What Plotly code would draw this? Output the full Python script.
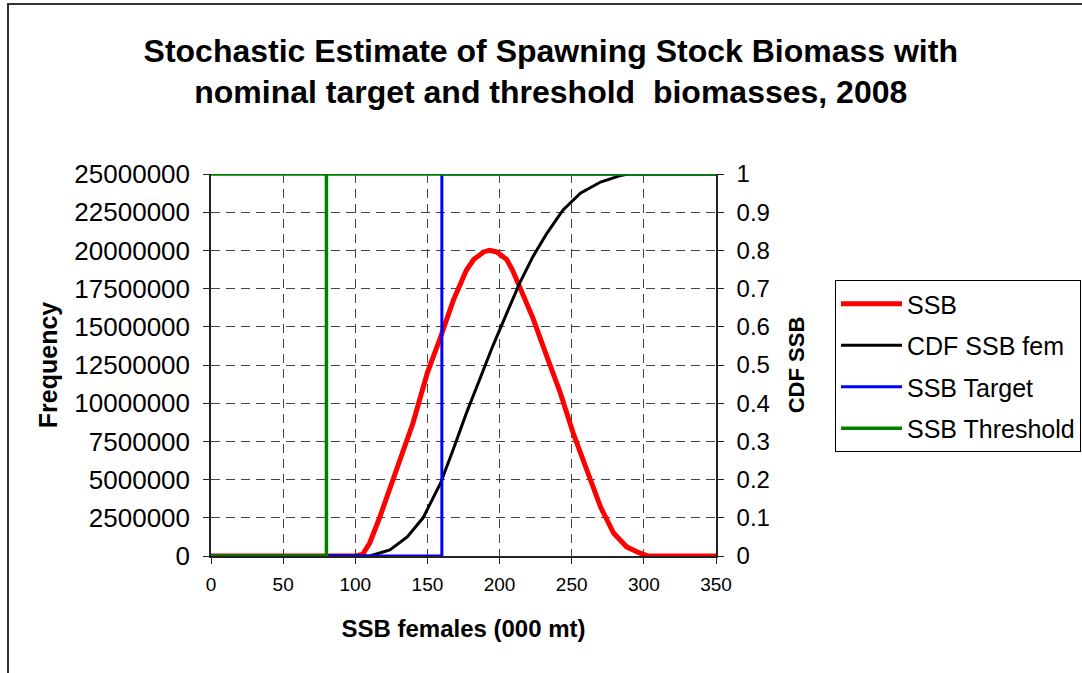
import plotly.graph_objects as go

# SSB frequency distribution (primary axis)
ssb_x = [0, 100, 105, 110, 117, 124, 131, 140, 150, 159, 168, 177, 182, 189,
         193, 198, 205, 209, 214, 223, 233, 242, 251, 260, 270, 279, 288, 297,
         303, 350]
ssb_y = [0, 0, 100000, 850000, 2550000, 4500000, 6300000, 8700000, 12000000,
         14300000, 16750000, 18700000, 19400000, 19900000, 20000000, 19900000,
         19400000, 18700000, 17600000, 15600000, 13000000, 10700000, 8050000,
         5800000, 3200000, 1500000, 600000, 200000, 0, 0]

# cumulative distribution (secondary axis)
cdf_x = [0, 110, 124, 136, 147, 159, 168, 177, 186, 195, 205, 214, 223, 233,
         244, 256, 270, 283, 289, 350]
cdf_y = [0, 0, 0.016, 0.05, 0.10, 0.19, 0.28, 0.374, 0.46, 0.547, 0.636, 0.715,
         0.783, 0.846, 0.906, 0.95, 0.979, 0.995, 1.0, 1.0]

# nominal target / threshold step lines (secondary axis)
target_x = [80, 160, 160, 350]
target_y = [0, 0, 1, 1]
thresh_x = [0, 80, 80, 0, 350]
thresh_y = [0, 0, 1, 1, 1]

FONT = "Liberation Sans, Arial, sans-serif"

fig = go.Figure()
fig.add_trace(go.Scatter(x=ssb_x, y=ssb_y, mode="lines", name="SSB", legendgroup="a",
                         line=dict(color="#ff0000", width=5)))
fig.add_trace(go.Scatter(x=cdf_x, y=cdf_y, mode="lines", name="CDF SSB fem", legendgroup="b",
                         yaxis="y2", line=dict(color="#000000", width=3)))
fig.add_trace(go.Scatter(x=target_x, y=target_y, mode="lines", name="SSB Target", legendgroup="c",
                         yaxis="y2", line=dict(color="#0000ff", width=3)))
fig.add_trace(go.Scatter(x=thresh_x, y=thresh_y, mode="lines", name="SSB Threshold", legendgroup="d",
                         yaxis="y2", line=dict(color="#008000", width=3.5)))

fig.update_layout(
    width=1082, height=673,
    margin=dict(l=211, r=366, t=174, b=117, autoexpand=False),
    paper_bgcolor="white", plot_bgcolor="white",
    font=dict(family=FONT, color="black"),
    title=dict(
        text="<b>Stochastic Estimate of Spawning Stock Biomass with<br>"
             "nominal target and threshold  biomasses, 2008</b>",
        x=0.509, xanchor="center", y=1 - 61.5 / 673, yanchor="middle",
        font=dict(size=32)),
    xaxis=dict(
        range=[0, 350], dtick=50, tick0=0,
        showline=True, linecolor="#222", linewidth=1.5,
        ticks="outside", ticklen=6, tickcolor="#222",
        tickfont=dict(size=19), ticklabelstandoff=4,
        showgrid=True, gridcolor="#444", griddash="9px,6px", gridwidth=1,
        zeroline=False,
        title=dict(text="<b>SSB females (000 mt)</b>", font=dict(size=24), standoff=27)),
    yaxis=dict(
        range=[0, 25000000], dtick=2500000, tick0=0,
        showline=True, linecolor="#222", linewidth=1.5,
        ticks="outside", ticklen=6, tickcolor="#222",
        tickfont=dict(size=26), tickformat="d", ticklabelstandoff=8,
        showgrid=True, gridcolor="#444", griddash="9px,6px", gridwidth=1,
        zeroline=False,
        title=dict(text="<b>Frequency</b>", font=dict(size=25), standoff=10)),
    yaxis2=dict(
        range=[0, 1], dtick=0.1, tick0=0, overlaying="y", side="right",
        showline=True, linecolor="#222", linewidth=1.5,
        ticks="outside", ticklen=6, tickcolor="#222",
        tickfont=dict(size=24), ticklabelstandoff=8,
        showgrid=False, zeroline=False,
        title=dict(text="<b>CDF SSB</b>", font=dict(size=22), standoff=20)),
    legend=dict(
        x=(835 - 211) / 505, y=(556 - 280) / 382, xanchor="left", yanchor="top",
        bordercolor="black", borderwidth=1, bgcolor="white",
        font=dict(size=25), traceorder="grouped", tracegroupgap=6,
        itemwidth=61),
    showlegend=True,
)

# chart-area border
fig.add_shape(type="rect", xref="paper", yref="paper",
              x0=(8 - 211) / 505, x1=2.0, y0=-1.0, y1=(556 - 4) / 382,
              line=dict(color="#333", width=2), fillcolor="rgba(0,0,0,0)", layer="below")

fig.write_html("out.html", config={"displayModeBar": False},
               post_script="document.body.style.margin='0px';")
